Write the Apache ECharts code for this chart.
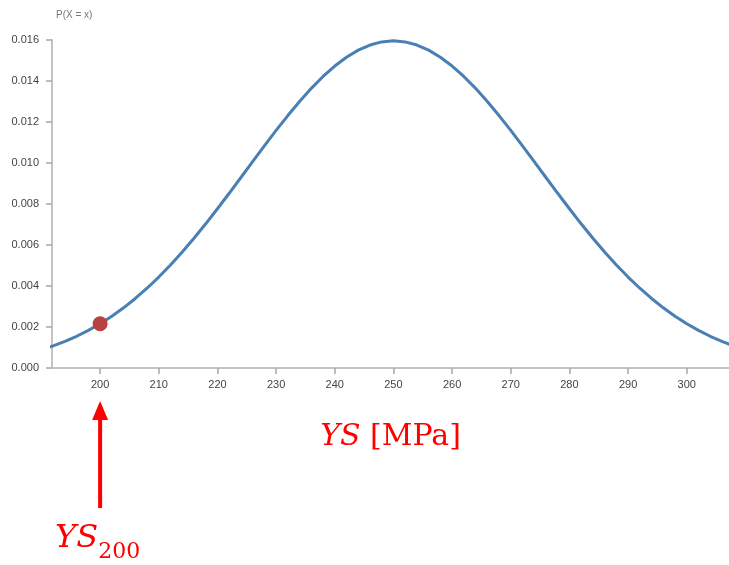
<!DOCTYPE html>
<html><head><meta charset="utf-8">
<script src="https://cdn.jsdelivr.net/npm/echarts@6/dist/echarts.min.js"></script>
<style>html,body{margin:0;padding:0;background:#fff}#c{width:729px;height:565px}</style>
</head><body><div id="c"></div>
<script>
const xValues = [190,192,194,196,198,200,202,204,206,208,210,212,214,216,218,220,222,224,226,228,230,232,234,236,238,240,242,244,246,248,250,252,254,256,258,260,262,264,266,268,270,272,274,276,278,280,282,284,286,288,290,292,294,296,298,300,302,304,306,308,310];
const densityValues = [0.000896,0.001082,0.001298,0.001548,0.001835,0.002160,0.002526,0.002936,0.003391,0.003891,0.004437,0.005026,0.005659,0.006329,0.007034,0.007768,0.008523,0.009292,0.010066,0.010835,0.011588,0.012314,0.013003,0.013642,0.014222,0.014731,0.015162,0.015505,0.015755,0.015907,0.015958,0.015907,0.015755,0.015505,0.015162,0.014731,0.014222,0.013642,0.013003,0.012314,0.011588,0.010835,0.010066,0.009292,0.008523,0.007768,0.007034,0.006329,0.005659,0.005026,0.004437,0.003891,0.003391,0.002936,0.002526,0.002160,0.001835,0.001548,0.001298,0.001082,0.000896];
const markedPoint = [200, 0.00216];
const xTicks = [200,210,220,230,240,250,260,270,280,290,300];
const xAxisTitle = ['YS', ' [MPa]'];
const pointLabel = ['YS', '200'];
const yAxisTitle = 'P(X = x)';

const chart = echarts.init(document.getElementById('c'), null, {renderer:'canvas'});
const axisGray = '#c4c4c4';
const tickGray = '#a8a8a8';
const labelColor = '#444';
const opt = {
  animation:false,
  grid:{left:52, right:0, top:40, bottom:197, containLabel:false},
  xAxis:{
    type:'value', min:191.8, max:307.2,
    splitLine:{show:false},
    axisLine:{lineStyle:{color:axisGray, width:2}},
    axisTick:{customValues:xTicks, length:6, lineStyle:{color:tickGray, width:1.5}},
    axisLabel:{customValues:xTicks, color:labelColor, fontFamily:'Liberation Sans', fontSize:11, margin:11},
    name: '{i|'+xAxisTitle[0]+'}{n|'+xAxisTitle[1]+'}',
    nameLocation:'middle', nameGap:54,
    nameTextStyle:{rich:{
      i:{fontFamily:'DejaVu Serif', fontStyle:'italic', fontSize:30, color:'#ff0000'},
      n:{fontFamily:'DejaVu Serif', fontSize:30, color:'#ff0000'}
    }}
  },
  yAxis:{
    type:'value', min:0, max:0.016, interval:0.002,
    splitLine:{show:false},
    axisLine:{show:true, lineStyle:{color:axisGray, width:2}},
    axisTick:{show:true, length:6, lineStyle:{color:tickGray, width:1.5}},
    axisLabel:{color:labelColor, fontFamily:'Liberation Sans', fontSize:11, margin:13, formatter:v=>v.toFixed(3)},
    name:yAxisTitle, nameLocation:'end', nameGap:20,
    nameTextStyle:{color:'#777', fontFamily:'Liberation Sans', fontSize:10, align:'left', padding:[0,0,0,4]}
  },
  series:[
    {type:'line', data:xValues.map((x,i)=>[x,densityValues[i]]), showSymbol:false,
     lineStyle:{color:'#4a7fb3', width:3}, smooth:false, clip:true},
    {type:'scatter', data:[markedPoint], symbolSize:15, itemStyle:{color:'#b94140', opacity:1}, z:5}
  ]
};
chart.setOption(opt);
const px = chart.convertToPixel({xAxisIndex:0}, markedPoint[0]);
chart.setOption({graphic:[
  {type:'line', shape:{x1:px, y1:508, x2:px, y2:416}, style:{stroke:'#ff0000', lineWidth:4}},
  {type:'polygon', shape:{points:[[px,401],[px-8,420],[px+8,420]]}, style:{fill:'#ff0000'}},
  {type:'text', left:px-45, top:523, style:{
    text:'{i|'+pointLabel[0]+'}{s|'+pointLabel[1]+'}',
    rich:{
      i:{fontFamily:'DejaVu Serif', fontStyle:'italic', fontSize:32, fill:'#ff0000', verticalAlign:'bottom'},
      s:{fontFamily:'DejaVu Serif', fontSize:22, fill:'#ff0000', verticalAlign:'bottom', padding:[0,0,-8,0]}
    }}}
]});
</script></body></html>
